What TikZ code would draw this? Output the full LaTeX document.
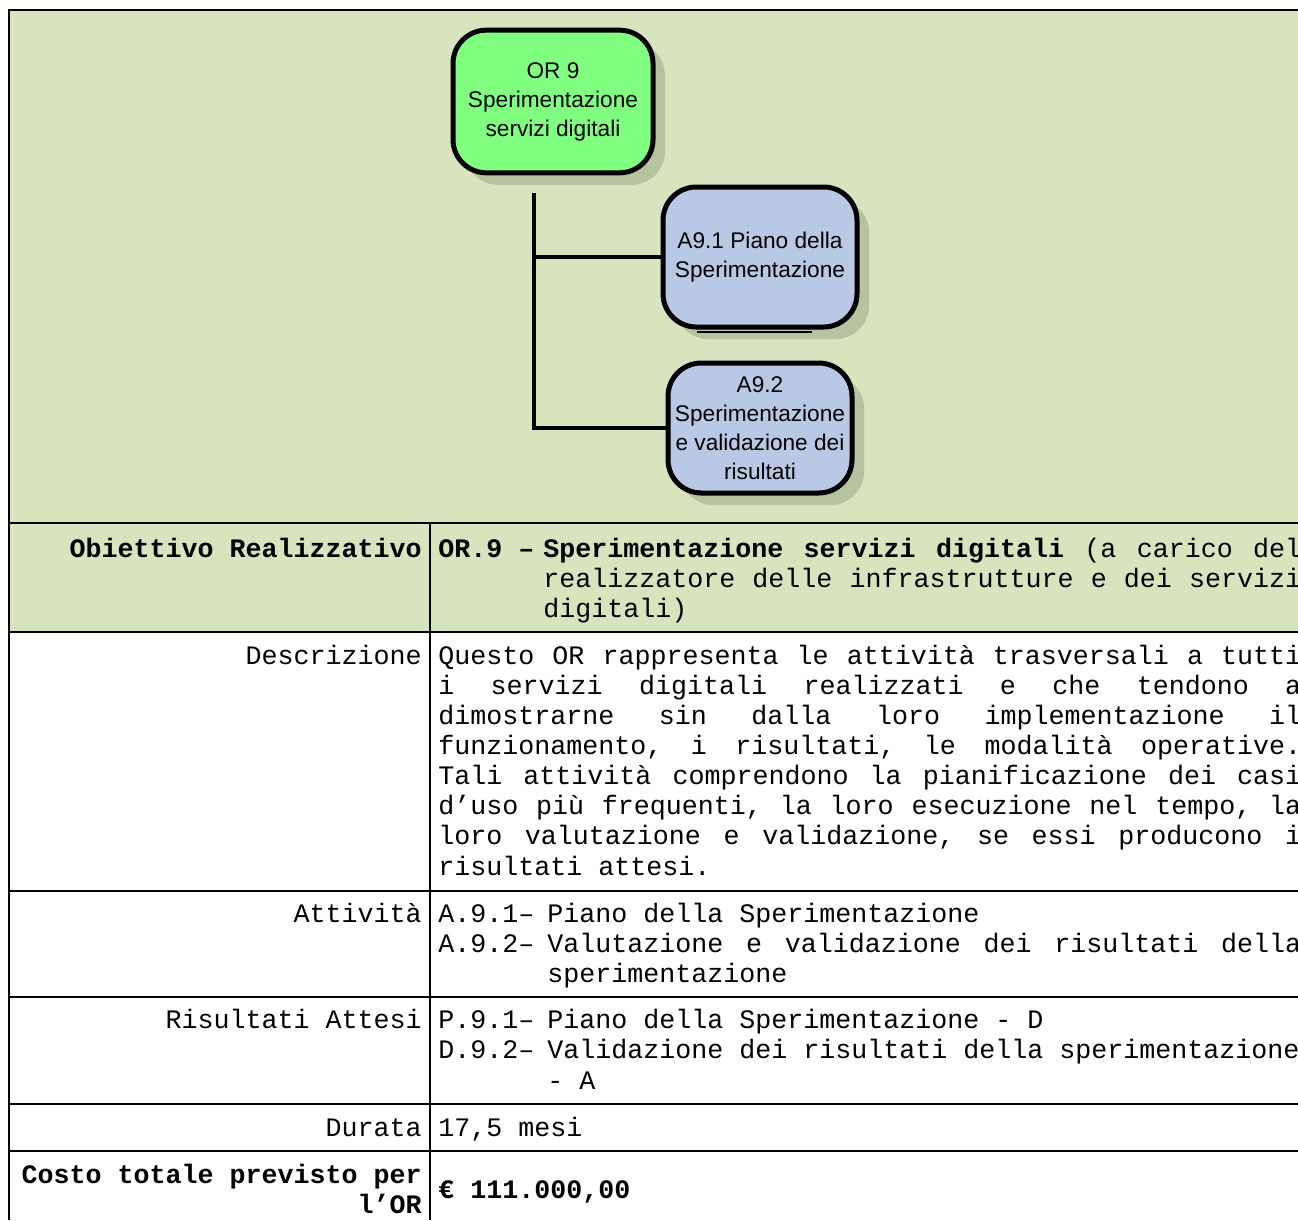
\documentclass[tikz,border=0pt]{standalone}
\usepackage{fontspec}
\setmainfont{Liberation Sans}
\setsansfont{Liberation Sans}
\setmonofont{Liberation Mono}
\usepackage{xcolor}
\usetikzlibrary{positioning,shadows}

\definecolor{olivebg}{HTML}{D7E4BD}
\definecolor{orgreen}{HTML}{80FF80}
\definecolor{actblue}{HTML}{B9C9E5}

\newcommand{\cellfont}{\ttfamily\fontsize{20}{22.5}\selectfont}
\newcommand{\boxfont}{\sffamily\fontsize{17}{21.75}\selectfont}
% one justified line of the table text
\newcommand{\jline}[2]{\hbox to #1{\spaceskip=\fontdimen2\font plus 1fil\relax #2}}
\frenchspacing

\tikzset{
  taskbox/.style={draw=black, line width=3.75pt, rounded corners=25pt, align=center,
    font=\boxfont, inner sep=0pt,
    drop shadow={shadow xshift=9pt, shadow yshift=-9pt, fill=black, opacity=0.15}},
  orbox/.style={taskbox, fill=orgreen},
  actbox/.style={taskbox, fill=actblue},
  conn/.style={line width=2.4pt},
  grid/.style={line width=1.9pt},
  cell/.style={font=\cellfont, inner sep=0pt, anchor=base west},
  lbl/.style={font=\cellfont, inner sep=0pt, anchor=base east}
}

\begin{document}
\begin{tikzpicture}[x=0.75pt, y=-0.75pt]
            \clip (0,0) rectangle (1298,1220);

            % Background of the chart and of the first row
            \fill[olivebg] (9,10) rectangle (1298,632);

            % Table rules
            \draw[grid] (9,1220) -- (9,10) -- (1298,10);
            \foreach \y in {523,632,891,997,1104,1151}
            {
                \draw[grid] (9,\y) -- (1298,\y);
            }
            \draw[grid] (430,523) -- (430,1220);

            % Chart boxes
            \node[orbox, minimum width=150pt, minimum height=107pt] (OR9) at (553,101.5)
                {OR 9\\Sperimentazione\\servizi digitali};
            \node[actbox, minimum width=145.5pt, minimum height=105pt] (A91) at (760,257)
                {A9.1 Piano della\\Sperimentazione};
            \node[actbox, minimum width=138pt, minimum height=97.5pt] (A92) at (760,428)
                {A9.2\\Sperimentazione\\e validazione dei\\risultati};
            \draw[line width=2.2pt] (697,332) -- (812,332);

            % Connectors
            \coordinate (trunk) at (534,193);
            \draw[conn] (trunk) |- (A92.west);
            \draw[conn] (trunk |- A91.west) -- (A91.west);

            % Row: Obiettivo Realizzativo
            \node[lbl, font=\cellfont\bfseries] (obj-lbl) at (422,557) {Obiettivo Realizzativo};
            \node[cell, font=\cellfont\bfseries] (obj-or) at (438,557) {OR.9 –};
            \node[cell] (obj-1) at (543,557)
                {\jline{568.5pt}{\textbf{Sperimentazione servizi digitali} (a carico del}};
            \node[cell] (obj-2) at (543,587)
                {\jline{568.5pt}{realizzatore delle infrastrutture e dei servizi}};
            \node[cell] (obj-3) at (543,617) {digitali)};

            % Row: Descrizione
            \node[lbl] (desc-lbl) at (422,664) {Descrizione};
            \foreach \desc [count=\i from 0] in {
                {Questo OR rappresenta le attività trasversali a tutti},
                {i servizi digitali realizzati e che tendono a},
                {dimostrarne sin dalla loro implementazione il},
                {funzionamento, i risultati, le modalità operative.},
                {Tali attività comprendono la pianificazione dei casi},
                {d’uso più frequenti, la loro esecuzione nel tempo, la},
                {loro valutazione e validazione, se essi producono i}}
            {
                \node[cell] (desc-\i) at (438,{664+30.15*\i}) {\jline{647.25pt}{\desc}};
            }
            \node[cell] (desc-7) at (438,875) {risultati attesi.};

            % Row: Attivita
            \node[lbl] (att-lbl) at (422,922) {Attività};
            \node[cell] (att-1n) at (438,922) {A.9.1–};
            \node[cell] (att-1) at (547,922) {Piano della Sperimentazione};
            \node[cell] (att-2n) at (438,952) {A.9.2–};
            \node[cell] (att-2) at (547,952)
                {\jline{565.5pt}{Valutazione e validazione dei risultati della}};
            \node[cell] (att-3) at (547,982) {sperimentazione};

            % Row: Risultati Attesi
            \node[lbl] (ris-lbl) at (422,1028) {Risultati Attesi};
            \node[cell] (ris-1n) at (438,1028) {P.9.1–};
            \node[cell] (ris-1) at (547,1028) {Piano della Sperimentazione - D};
            \node[cell] (ris-2n) at (438,1058) {D.9.2–};
            \node[cell] (ris-2) at (547,1058) {Validazione dei risultati della sperimentazione};
            \node[cell] (ris-3) at (547,1089) {- A};

            % Row: Durata
            \node[lbl] (dur-lbl) at (422,1136) {Durata};
            \node[cell] (dur) at (438,1136) {17,5 mesi};

            % Row: Costo
            \node[lbl, font=\cellfont\bfseries] (cost-lbl1) at (422,1183) {Costo totale previsto per};
            \node[lbl, font=\cellfont\bfseries] (cost-lbl2) at (422,1213) {l’OR};
            \node[cell, font=\cellfont\bfseries] (cost) at (438,1198) {€ 111.000,00};

\end{tikzpicture}
\end{document}
